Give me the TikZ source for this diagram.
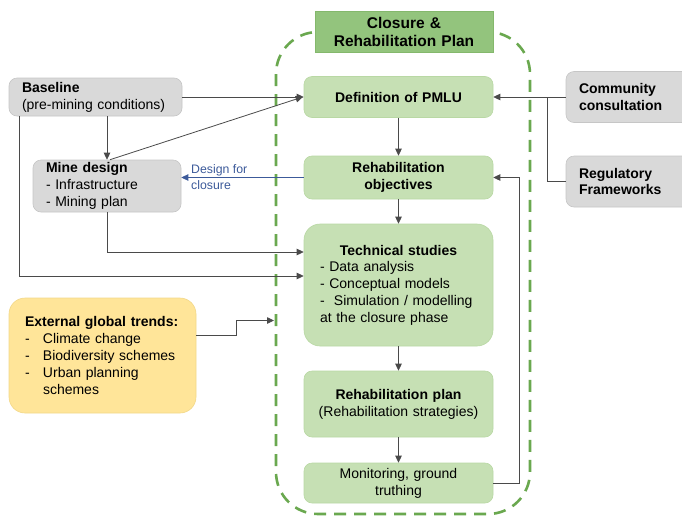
\documentclass[tikz,border=0pt]{standalone}
\usepackage{fontspec}
\setmainfont{Liberation Sans}
\usetikzlibrary{arrows.meta,calc}
\definecolor{gfill}{HTML}{C6E0B4}
\definecolor{gdraw}{HTML}{B9D8A4}
\definecolor{tfill}{HTML}{93C47D}
\definecolor{tdraw}{HTML}{84B86C}
\definecolor{cgreen}{HTML}{6AA84F}
\definecolor{greyfill}{HTML}{D9D9D9}
\definecolor{greydraw}{HTML}{C6C6C6}
\definecolor{yfill}{HTML}{FFE599}
\definecolor{ydraw}{HTML}{F2D88A}
\definecolor{lc}{HTML}{4A4A4A}
\definecolor{bluec}{HTML}{3C5A9A}
\begin{document}
\begin{tikzpicture}[x=1pt,y=-1pt,
  box/.style={rounded corners=8pt, inner xsep=8pt, inner ysep=0pt, font=\fontsize{14}{16.8}\selectfont, align=center},
  gbox/.style={box, fill=gfill, draw=gdraw, line width=0.6pt},
  greybox/.style={box, fill=greyfill, draw=greydraw, line width=0.6pt},
  ybox/.style={box, fill=yfill, draw=ydraw, line width=0.6pt},
  conn/.style={draw=lc, line width=0.8pt},
  arr/.style={conn, -{Triangle[length=7pt,width=6.5pt]}},
  barr/.style={draw=bluec, line width=0.7pt, -{Triangle[length=7pt,width=6.5pt]}},
  container/.style={draw=cgreen, line width=2.6pt, dash pattern=on 12pt off 8pt, rounded corners=42pt}
]
\useasboundingbox (0,0) rectangle (682,517);
\clip (0,0) rectangle (682,517);

% container
\draw[container] (276,32) rectangle (530,514);
\node[box, rounded corners=0pt, fill=tfill, draw=tdraw, line width=0.6pt, text width=162pt, minimum height=41pt, font=\fontsize{15.5}{18.8}\selectfont\bfseries] (title) at (404,32) {Closure \&\\Rehabilitation Plan};

% central boxes
\node[gbox, text width=173pt, minimum height=41pt] (pmlu) at (398.5,97) {\textbf{Definition of PMLU}};
\node[gbox, text width=173pt, minimum height=43pt] (obj) at (398.5,177.5) {\textbf{Rehabilitation}\\\textbf{objectives}};
\node[gbox, rounded corners=16pt, inner xsep=16pt, text width=157pt, align=left, minimum height=122pt] (tech) at (398.5,285) {\makebox[157pt]{\textbf{Technical studies}}\\- Data analysis\\- Conceptual models\\-\ \ Simulation / modelling\\at the closure phase};
\node[gbox, text width=173pt, minimum height=66pt] (plan) at (398.5,404) {\textbf{Rehabilitation plan}\\(Rehabilitation strategies)};
\node[gbox, text width=173pt, minimum height=40pt] (mon) at (398.5,483) {Monitoring, ground\\truthing};

% left boxes
\node[greybox, inner xsep=13pt, text width=147pt, align=left, minimum height=38pt] (base) at (95.5,97) {\textbf{Baseline}\\(pre-mining conditions)};
\node[greybox, inner xsep=13pt, text width=122pt, align=left, minimum height=52pt] (mine) at (107,186) {\textbf{Mine design}\\- Infrastructure\\- Mining plan};
\node[ybox, rounded corners=16pt, inner xsep=16pt, text width=155pt, align=left, minimum height=115pt] (ext) at (102.5,355.5) {\textbf{External global trends:}\\\makebox[18pt][l]{-}Climate change\\\makebox[18pt][l]{-}Biodiversity schemes\\\makebox[18pt][l]{-}Urban planning\\\hspace*{18pt}schemes};

% right boxes
\node[greybox, inner xsep=13pt, text width=100pt, align=left, minimum height=51pt, font=\fontsize{14}{16.8}\selectfont\bfseries] (comm) at (629,97) {Community\\consultation};
\node[greybox, inner xsep=13pt, text width=100pt, align=left, minimum height=51pt, font=\fontsize{14}{16.8}\selectfont\bfseries] (reg) at (629,181.5) {Regulatory\\Frameworks};

% connectors
\draw[arr] (base.east) -- (pmlu.west);
\draw[arr] ($(mine.north)+(3,0)$) -- ($(pmlu.west)+(-1,0)$);
\draw[arr] (mine.north |- base.south) -- (mine.north);
\draw[arr] ($(base.south west)+(11,0)$) |- ($(tech.west)+(0,-9)$);
\draw[arr] (mine.south) |- ($(tech.west)+(0,-33)$);
\coordinate (dashin) at (274,320.5);
\draw[arr] ($(ext.east)+(0,-20.5)$) -- ++(40,0) |- (dashin);
\draw[barr] (obj.west) -- (mine.east |- obj.west);
\node[anchor=west, text=bluec, align=left, inner sep=0pt, font=\fontsize{12.3}{16}\selectfont] (dfc) at (191,177) {Design for\\closure};
\draw[arr] (pmlu) -- (obj);
\draw[arr] (obj) -- (tech);
\draw[arr] (tech) -- (plan);
\draw[arr] (plan) -- (mon);
\draw[arr] (mon.east) -- ++(26,0) |- (obj.east);
\draw[arr] (comm.west) -- (pmlu.east);
\coordinate (join) at (547,97);
\draw[conn] (reg.west) -| (join);
\end{tikzpicture}
\end{document}
